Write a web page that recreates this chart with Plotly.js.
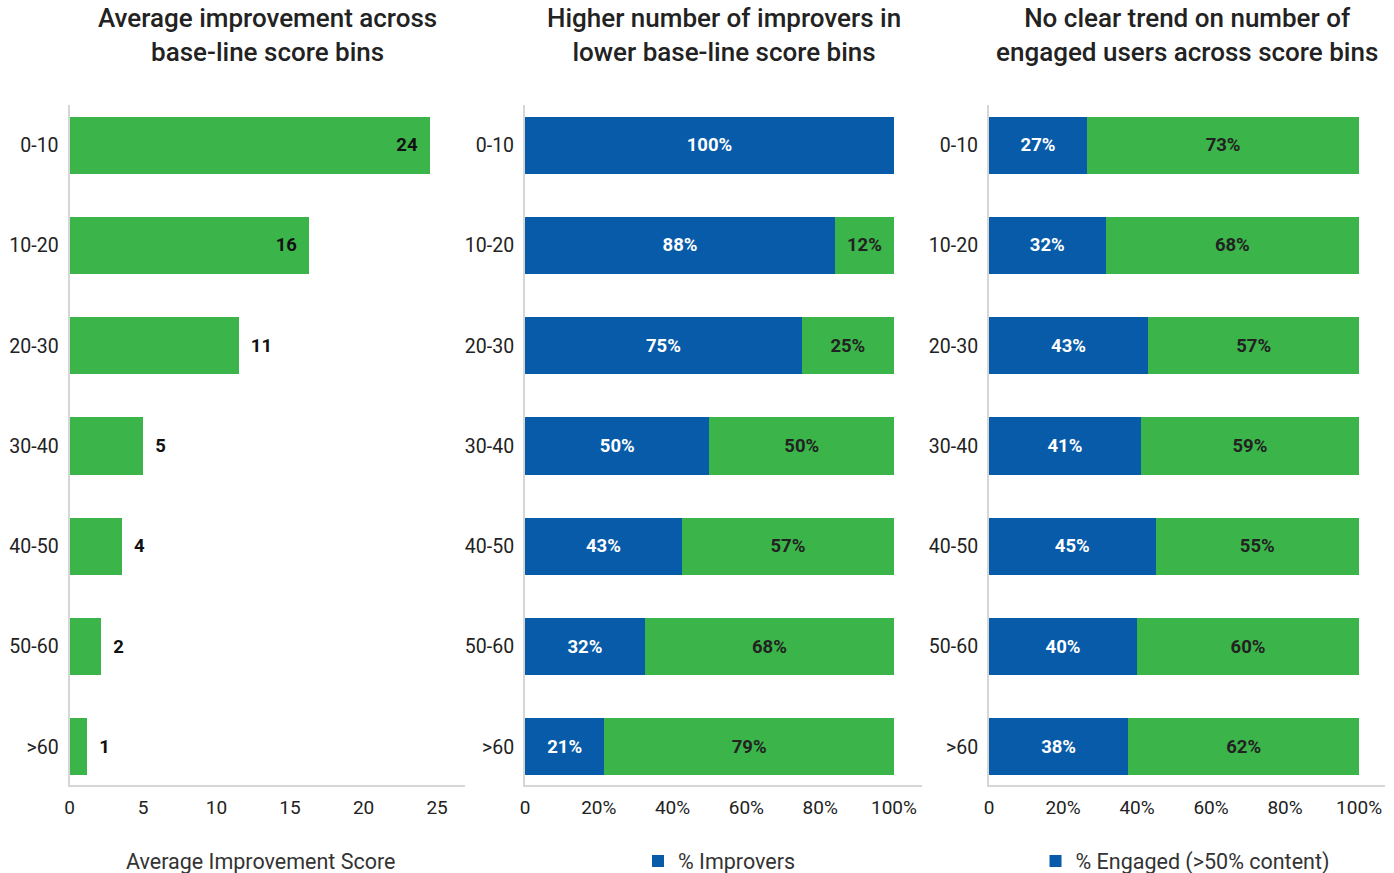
<!DOCTYPE html>
<html>
<head>
<meta charset="utf-8">
<script src="https://cdn.plot.ly/plotly-3.0.1.min.js"></script>
<style>html,body{margin:0;padding:0;background:#fff;}#chart{width:1394px;height:873px;}</style>
</head>
<body>
<div id="chart"></div>
<script>
// ---- data ----
const bins = ['0-10', '10-20', '20-30', '30-40', '40-50', '50-60', '>60'];
const avgImprovement = [24.5, 16.3, 11.5, 5.0, 3.55, 2.15, 1.2];
const avgImprovementLabels = ['24', '16', '11', '5', '4', '2', '1'];
const improversPct = [100, 84, 75, 50, 42.5, 32.5, 21.5];
const nonImproversPct = [0, 16, 25, 50, 57.5, 67.5, 78.5];
const improversLabels = ['100%', '88%', '75%', '50%', '43%', '32%', '21%'];
const nonImproversLabels = ['', '12%', '25%', '50%', '57%', '68%', '79%'];
const engagedPct = [26.5, 31.5, 43, 41, 45, 40, 37.6];
const notEngagedPct = [73.5, 68.5, 57, 59, 55, 60, 62.4];
const engagedLabels = ['27%', '32%', '43%', '41%', '45%', '40%', '38%'];
const notEngagedLabels = ['73%', '68%', '57%', '59%', '55%', '60%', '62%'];
const titles = [
  'Average improvement across<br>base-line score bins',
  'Higher number of improvers in<br>lower base-line score bins',
  'No clear trend on number of<br>engaged users across score bins'
];
const xTitle1 = 'Average Improvement Score';
const pctTickVals = [0, 20, 40, 60, 80, 100];
const pctTickText = ['0', '20%', '40%', '60%', '80%', '100%'];

// ---- style ----
const BLUE = '#075BA9';
const GREEN = '#3BB54A';
const FONT = 'Roboto, "Open Sans", sans-serif';
const W = 1394;
const H = 873;
const PLOT_H = 680;

const insidePos = avgImprovement.map(v => v >= 15 ? 'inside' : 'outside');
const tmpl = avgImprovement.map(v => v >= 15 ? '%{text}\u00a0\u00a0' : '\u00a0\u00a0%{text}');

const labelFont = (c) => ({family: FONT, size: 18.5, color: c, weight: 'bold'});

const traces = [
  {
    type: 'bar', orientation: 'h', x: avgImprovement, y: bins,
    xaxis: 'x', yaxis: 'y', marker: {color: GREEN}, width: 0.57,
    text: avgImprovementLabels, texttemplate: tmpl, textposition: insidePos,
    insidetextanchor: 'end', cliponaxis: false,
    textfont: labelFont('#111'),
    showlegend: false
  },
  {
    type: 'bar', orientation: 'h', x: improversPct, y: bins,
    xaxis: 'x2', yaxis: 'y2', marker: {color: BLUE}, width: 0.57,
    name: '% Improvers', legend: 'legend',
    text: improversLabels, textposition: 'inside', insidetextanchor: 'middle',
    textfont: labelFont('#ffffff'),
    showlegend: true
  },
  {
    type: 'bar', orientation: 'h', x: nonImproversPct, y: bins,
    xaxis: 'x2', yaxis: 'y2', marker: {color: GREEN}, width: 0.57,
    text: nonImproversLabels, textposition: 'inside', insidetextanchor: 'middle',
    textfont: labelFont('#222'),
    showlegend: false
  },
  {
    type: 'bar', orientation: 'h', x: engagedPct, y: bins,
    xaxis: 'x3', yaxis: 'y3', marker: {color: BLUE}, width: 0.57,
    name: '% Engaged (>50% content)', legend: 'legend2',
    text: engagedLabels, textposition: 'inside', insidetextanchor: 'middle',
    textfont: labelFont('#ffffff'),
    showlegend: true
  },
  {
    type: 'bar', orientation: 'h', x: notEngagedPct, y: bins,
    xaxis: 'x3', yaxis: 'y3', marker: {color: GREEN}, width: 0.57,
    text: notEngagedLabels, textposition: 'inside', insidetextanchor: 'middle',
    textfont: labelFont('#222'),
    showlegend: false
  }
];

const doms = [[69.5 / W, 465 / W], [525 / W, 922 / W], [989 / W, 1385 / W]];

function xax(dom, range, extra) {
  return Object.assign({
    domain: dom, range: range, showgrid: false, zeroline: false,
    showline: true, linecolor: '#d6d6d6', linewidth: 2,
    ticks: 'outside', ticklen: 4, tickcolor: 'rgba(0,0,0,0)',
    tickfont: {family: FONT, size: 19, color: '#222'}, fixedrange: true
  }, extra || {});
}
function yax(anchor) {
  return {
    anchor: anchor, type: 'category', range: [6.38, -0.4],
    showgrid: false, zeroline: false, showline: true,
    linecolor: '#d6d6d6', linewidth: 2,
    ticks: 'outside', ticklen: 5, tickcolor: 'rgba(0,0,0,0)',
    tickfont: {family: FONT, size: 19.5, color: '#222'}, fixedrange: true
  };
}

const centers = doms.map(d => (d[0] + d[1]) / 2);
const legendY = 12 / H;

const annotations = titles.map((t, i) => ({
  text: t, xref: 'paper', yref: 'paper', x: centers[i], y: 1 + 69.5 / PLOT_H,
  xanchor: 'center', yanchor: 'middle', showarrow: false, align: 'center',
  font: {family: FONT, size: 26, color: '#222', weight: 500}
}));
annotations.push({
  text: xTitle1, xref: 'paper', yref: 'paper', x: 260 / W, y: -76 / PLOT_H,
  xanchor: 'center', yanchor: 'middle', showarrow: false,
  font: {family: FONT, size: 21.5, color: '#333'}
});

const layout = {
  width: W, height: H,
  margin: {l: 0, r: 0, t: 105, b: 88},
  paper_bgcolor: '#fff', plot_bgcolor: '#fff',
  font: {family: FONT, color: '#222'},
  barmode: 'stack',
  xaxis: xax(doms[0], [0, 26.9], {anchor: 'y', dtick: 5, tick0: 0}),
  yaxis: yax('x'),
  xaxis2: xax(doms[1], [0, 107.6], {anchor: 'y2', tickvals: pctTickVals, ticktext: pctTickText}),
  yaxis2: yax('x2'),
  xaxis3: xax(doms[2], [0, 107], {anchor: 'y3', tickvals: pctTickVals, ticktext: pctTickText}),
  yaxis3: yax('x3'),
  legend: {
    orientation: 'h', xref: 'container', yref: 'container',
    x: 719.5 / W, xanchor: 'center', y: legendY, yanchor: 'middle',
    font: {family: FONT, size: 21.5, color: '#333'}, bgcolor: 'rgba(0,0,0,0)'
  },
  legend2: {
    orientation: 'h', xref: 'container', yref: 'container',
    x: 1185 / W, xanchor: 'center', y: legendY, yanchor: 'middle',
    font: {family: FONT, size: 21.5, color: '#333'}, bgcolor: 'rgba(0,0,0,0)'
  },
  annotations: annotations,
  showlegend: true
};

Plotly.newPlot('chart', traces, layout, {displayModeBar: false, staticPlot: true});
</script>
</body>
</html>
